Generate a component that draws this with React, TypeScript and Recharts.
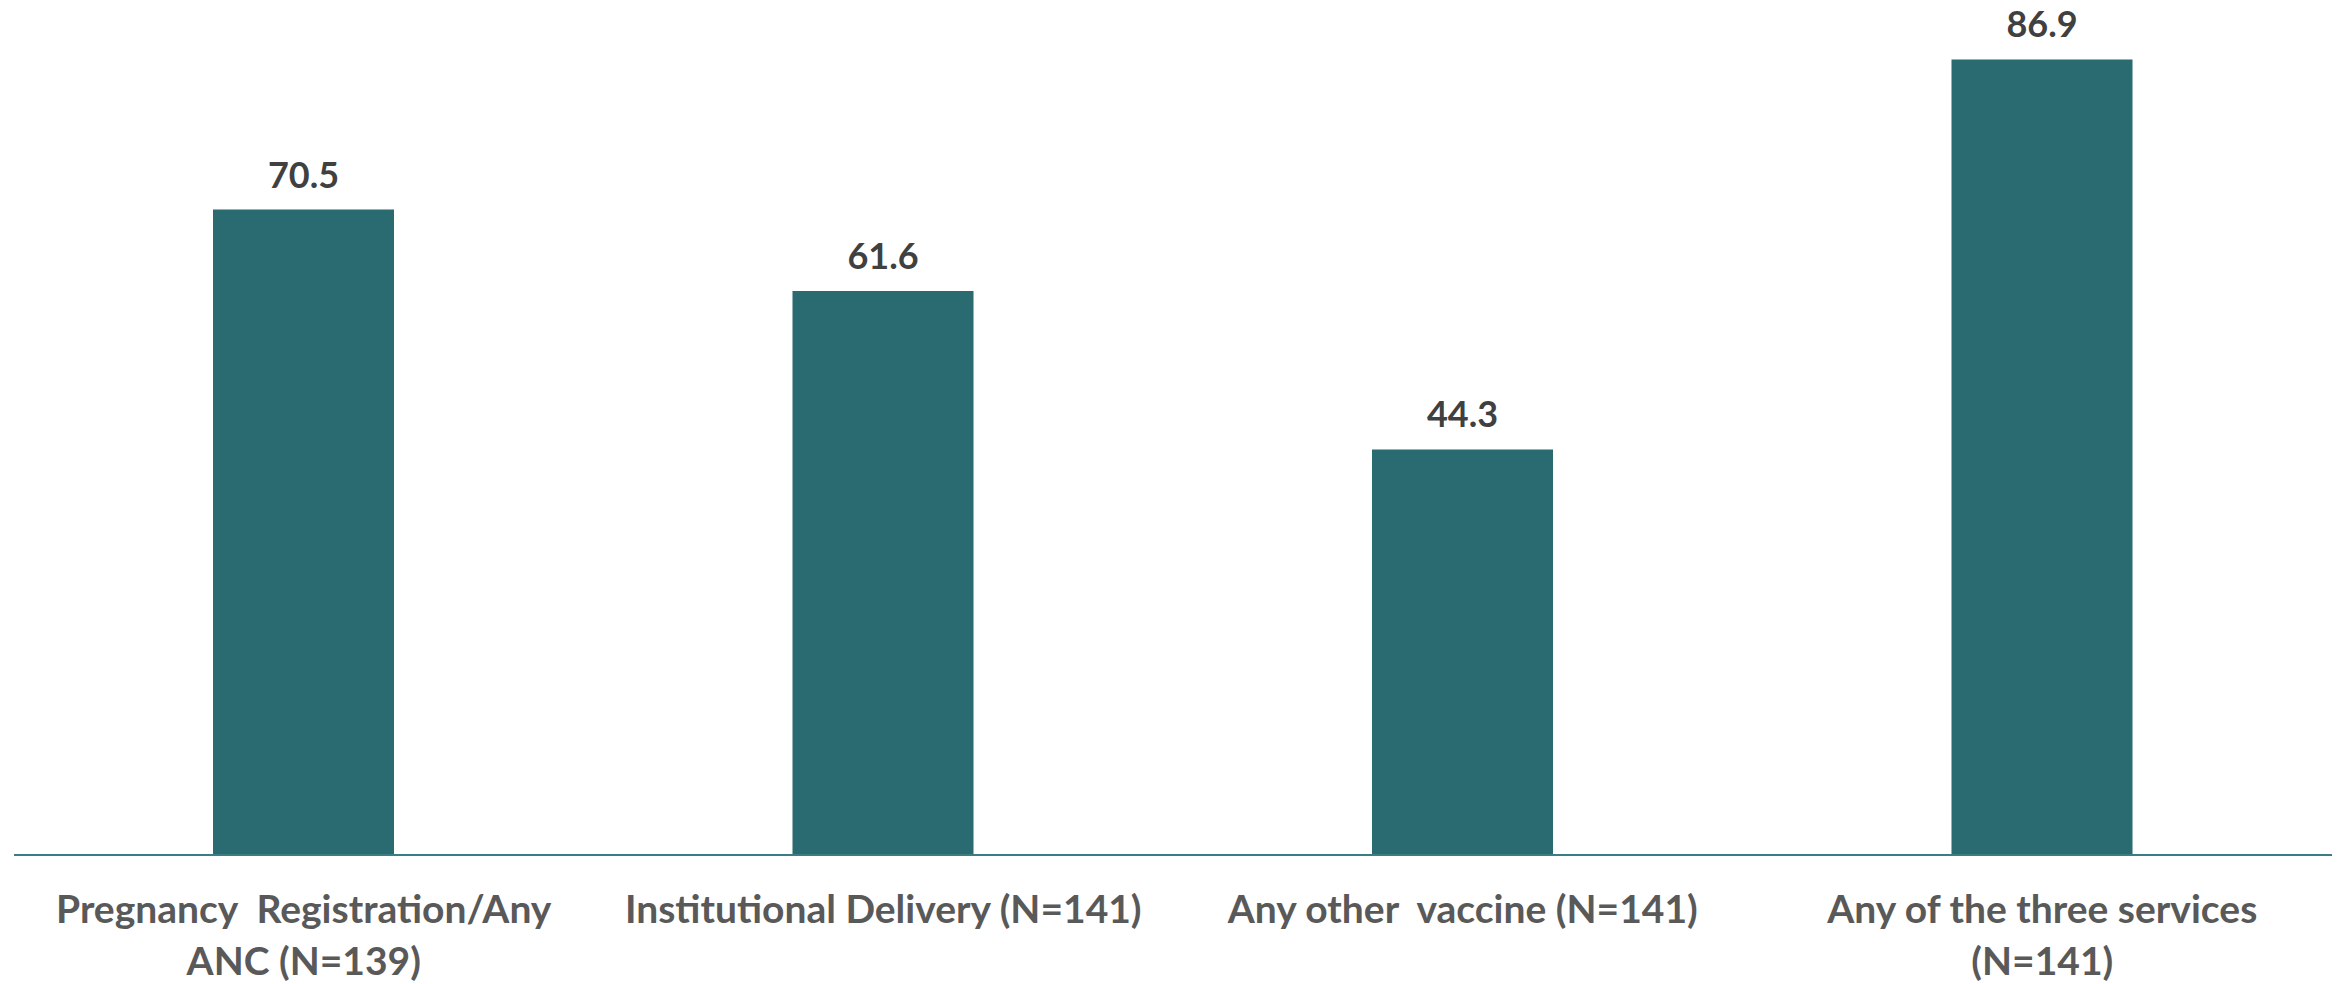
import { Bar, BarChart, LabelList, XAxis, YAxis } from "recharts";

const categories = [
  "Pregnancy  Registration/Any\nANC (N=139)",
  "Institutional Delivery (N=141)",
  "Any other  vaccine (N=141)",
  "Any of the three services\n(N=141)",
];
const values = [70.5, 61.6, 44.3, 86.9];

const rows = categories.map((c, i) => ({ name: c, value: values[i] }));

const FONT = "Lato, 'Open Sans', sans-serif";

function CategoryTick(props: any) {
  const { x, y, payload } = props;
  const lines = String(payload.value).split("\n");
  return (
    <text
      x={x}
      y={y}
      textAnchor="middle"
      fill="#595959"
      fontFamily={FONT}
      fontWeight={700}
      fontSize={39}
      style={{ whiteSpace: "pre" }}
    >
      {lines.map((l, i) => (
        <tspan key={i} x={x} dy={i === 0 ? 68 : 52}>
          {l}
        </tspan>
      ))}
    </text>
  );
}

function ValueLabel(props: any) {
  const { x, y, width, value } = props;
  return (
    <text
      x={x + width / 2}
      y={y - 22}
      textAnchor="middle"
      fill="#404040"
      fontFamily={FONT}
      fontWeight={700}
      fontSize={36}
    >
      {Number(value).toFixed(1)}
    </text>
  );
}

export default function App() {
  return (
    <div style={{ position: "absolute", left: 0, top: 0, background: "#fff" }}>
      <BarChart
        width={2341}
        height={984}
        data={rows}
        margin={{ top: 31, right: 9, left: 14, bottom: 0 }}
      >
        <XAxis
          dataKey="name"
          height={129}
          interval={0}
          tickLine={false}
          tickSize={0}
          tickMargin={0}
          axisLine={{ stroke: "#3a7e84", strokeWidth: 2 }}
          tick={<CategoryTick />}
        />
        <YAxis hide domain={[0, 90]} />
        <Bar dataKey="value" fill="#296b70" barSize={181} isAnimationActive={false}>
          <LabelList dataKey="value" content={<ValueLabel />} />
        </Bar>
      </BarChart>
    </div>
  );
}
